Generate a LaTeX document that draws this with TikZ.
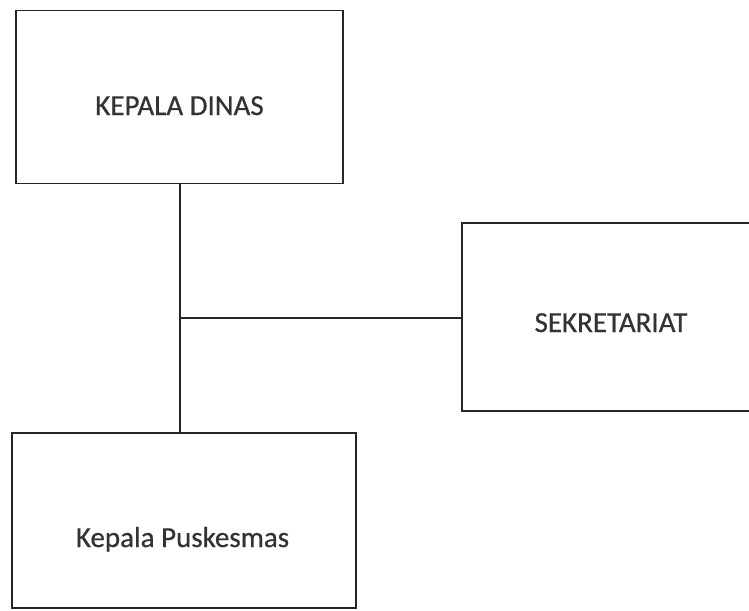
\documentclass[tikz,border=0pt]{standalone}
\usepackage{fontspec}
\setmainfont{Carlito}[FakeBold=0.6]
\begin{document}
\begin{tikzpicture}[x=1pt,y=-1pt,
  orgbox/.style={draw=black!85, line width=1.6pt, rectangle, inner sep=0pt},
  label/.style={anchor=base, inner sep=0pt, font=\fontsize{29}{34}\selectfont\addfontfeature{FakeBold=0.6}, text=black!80},
  link/.style={draw=black!85, line width=1.6pt}]
\useasboundingbox (0,0) rectangle (749,610);
\clip (0,0) rectangle (749,610);
\node[orgbox, minimum width=327pt, minimum height=173pt] (dinas) at (179.5,97) {};
\node[orgbox, minimum width=300pt, minimum height=188pt] (sekr) at (612,317) {};
\node[orgbox, minimum width=344pt, minimum height=175pt] (pusk) at (184,520.5) {};
\node[label] (dinastext) at (179.5,115) {KEPALA DINAS};
\node[label] (sekrtext) at (611,332) {SEKRETARIAT};
\node[label] (pusktext) at (182.5,547) {Kepala Puskesmas};
\coordinate (j) at (180,318);
\draw[link] (dinas.south -| j) -- (pusk.north -| j);
\draw[link] (j) -- (sekr.west |- j);
\end{tikzpicture}
\end{document}
